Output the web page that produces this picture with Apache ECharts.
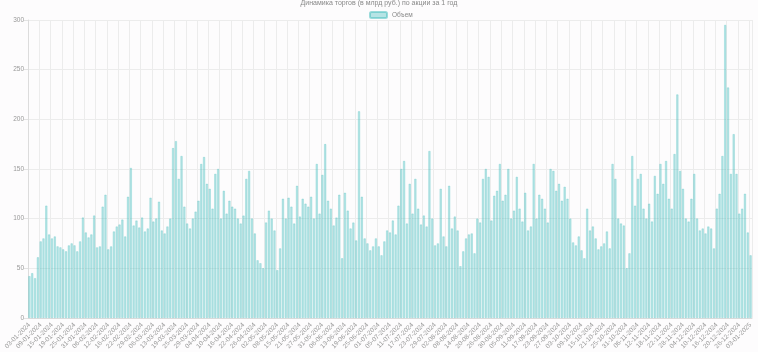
<!DOCTYPE html>
<html>
<head>
<meta charset="utf-8">
<script src="https://cdn.jsdelivr.net/npm/echarts@6/dist/echarts.min.js"></script>
<style>
  html, body { margin: 0; padding: 0; background: #fdfcfd; }
  #chart { width: 758px; height: 352px; }
</style>
</head>
<body>
<div id="chart"></div>
<script>
// торговые дни (MOEX) 03.01.2024 - 03.01.2025
const tradeDates = [
  '03-01-2024','04-01-2024','05-01-2024','08-01-2024','09-01-2024','10-01-2024','11-01-2024','12-01-2024','15-01-2024','16-01-2024',
  '17-01-2024','18-01-2024','19-01-2024','22-01-2024','23-01-2024','24-01-2024','25-01-2024','26-01-2024','29-01-2024','30-01-2024',
  '31-01-2024','01-02-2024','02-02-2024','05-02-2024','06-02-2024','07-02-2024','08-02-2024','09-02-2024','12-02-2024','13-02-2024',
  '14-02-2024','15-02-2024','16-02-2024','19-02-2024','20-02-2024','21-02-2024','22-02-2024','26-02-2024','27-02-2024','28-02-2024',
  '29-02-2024','01-03-2024','04-03-2024','05-03-2024','06-03-2024','07-03-2024','11-03-2024','12-03-2024','13-03-2024','14-03-2024',
  '15-03-2024','18-03-2024','19-03-2024','20-03-2024','21-03-2024','22-03-2024','25-03-2024','26-03-2024','27-03-2024','28-03-2024',
  '29-03-2024','01-04-2024','02-04-2024','03-04-2024','04-04-2024','05-04-2024','08-04-2024','09-04-2024','10-04-2024','11-04-2024',
  '12-04-2024','15-04-2024','16-04-2024','17-04-2024','18-04-2024','19-04-2024','22-04-2024','23-04-2024','24-04-2024','25-04-2024',
  '26-04-2024','27-04-2024','29-04-2024','30-04-2024','02-05-2024','03-05-2024','06-05-2024','07-05-2024','08-05-2024','10-05-2024',
  '13-05-2024','14-05-2024','15-05-2024','16-05-2024','17-05-2024','20-05-2024','21-05-2024','22-05-2024','23-05-2024','24-05-2024',
  '27-05-2024','28-05-2024','29-05-2024','30-05-2024','31-05-2024','03-06-2024','04-06-2024','05-06-2024','06-06-2024','07-06-2024',
  '10-06-2024','11-06-2024','13-06-2024','14-06-2024','17-06-2024','18-06-2024','19-06-2024','20-06-2024','21-06-2024','24-06-2024',
  '25-06-2024','26-06-2024','27-06-2024','28-06-2024','01-07-2024','02-07-2024','03-07-2024','04-07-2024','05-07-2024','08-07-2024',
  '09-07-2024','10-07-2024','11-07-2024','12-07-2024','15-07-2024','16-07-2024','17-07-2024','18-07-2024','19-07-2024','22-07-2024',
  '23-07-2024','24-07-2024','25-07-2024','26-07-2024','29-07-2024','30-07-2024','31-07-2024','01-08-2024','02-08-2024','05-08-2024',
  '06-08-2024','07-08-2024','08-08-2024','09-08-2024','12-08-2024','13-08-2024','14-08-2024','15-08-2024','16-08-2024','19-08-2024',
  '20-08-2024','21-08-2024','22-08-2024','23-08-2024','26-08-2024','27-08-2024','28-08-2024','29-08-2024','30-08-2024','02-09-2024',
  '03-09-2024','04-09-2024','05-09-2024','06-09-2024','09-09-2024','10-09-2024','11-09-2024','12-09-2024','13-09-2024','16-09-2024',
  '17-09-2024','18-09-2024','19-09-2024','20-09-2024','23-09-2024','24-09-2024','25-09-2024','26-09-2024','27-09-2024','30-09-2024',
  '01-10-2024','02-10-2024','03-10-2024','04-10-2024','07-10-2024','08-10-2024','09-10-2024','10-10-2024','11-10-2024','14-10-2024',
  '15-10-2024','16-10-2024','17-10-2024','18-10-2024','21-10-2024','22-10-2024','23-10-2024','24-10-2024','25-10-2024','28-10-2024',
  '29-10-2024','30-10-2024','31-10-2024','01-11-2024','02-11-2024','05-11-2024','06-11-2024','07-11-2024','08-11-2024','11-11-2024',
  '12-11-2024','13-11-2024','14-11-2024','15-11-2024','18-11-2024','19-11-2024','20-11-2024','21-11-2024','22-11-2024','25-11-2024',
  '26-11-2024','27-11-2024','28-11-2024','29-11-2024','02-12-2024','03-12-2024','04-12-2024','05-12-2024','06-12-2024','09-12-2024',
  '10-12-2024','11-12-2024','12-12-2024','13-12-2024','16-12-2024','17-12-2024','18-12-2024','19-12-2024','20-12-2024','23-12-2024',
  '24-12-2024','25-12-2024','26-12-2024','27-12-2024','28-12-2024','30-12-2024','03-01-2025'
]

// объем торгов
const volume = [
  42, 45, 40, 61, 77, 80, 113, 84, 80, 82,
  72, 71, 69, 67, 73, 75, 73, 67, 77, 101,
  86, 81, 84, 103, 71, 72, 112, 124, 69, 72,
  87, 92, 94, 99, 82, 122, 151, 93, 98, 91,
  101, 87, 90, 121, 97, 100, 117, 88, 85, 92,
  100, 171, 178, 140, 163, 112, 95, 90, 100, 107,
  118, 155, 162, 135, 130, 110, 145, 150, 100, 128,
  105, 118, 112, 110, 100, 95, 103, 140, 148, 100,
  85, 58, 55, 50, 96, 108, 100, 88, 48, 70,
  120, 100, 121, 112, 95, 133, 102, 120, 115, 112,
  122, 100, 155, 105, 144, 175, 118, 110, 93, 101,
  124, 60, 126, 108, 90, 96, 78, 208, 122, 80,
  75, 68, 72, 80, 72, 63, 77, 88, 86, 98,
  84, 113, 150, 158, 95, 135, 105, 140, 110, 94,
  103, 92, 168, 100, 73, 75, 130, 82, 72, 133,
  90, 102, 88, 52, 67, 80, 84, 85, 65, 100,
  96, 140, 150, 142, 98, 123, 128, 155, 118, 124,
  150, 100, 108, 142, 110, 97, 126, 88, 92, 155,
  100, 124, 120, 110, 96, 150, 148, 128, 135, 118,
  132, 120, 100, 76, 73, 82, 68, 60, 110, 88,
  92, 80, 69, 72, 75, 87, 70, 155, 140, 100,
  95, 93, 50, 65, 163, 113, 140, 145, 110, 100,
  115, 97, 143, 125, 155, 135, 158, 120, 110, 165,
  225, 148, 130, 100, 97, 120, 145, 100, 88, 90,
  85, 92, 90, 70, 110, 125, 163, 295, 232, 145,
  185, 145, 105, 110, 125, 86, 63
]

const yTicks = { min: 0, max: 300, step: 50 }

const chart = echarts.init(document.getElementById('chart'))
const font = 'Liberation Sans, Arial, sans-serif'

chart.setOption({
  animation: false,
  backgroundColor: '#fdfcfd',
  textStyle: { fontFamily: font },
  title: {
    text: 'Динамика торгов (в млрд руб.) по акции за 1 год',
    left: 'center',
    top: -5,
    textStyle: { fontSize: 7, fontWeight: 'normal', color: '#888', fontFamily: font }
  },
  legend: {
    top: 6,
    left: 364,
    itemWidth: 17,
    itemHeight: 6,
    itemGap: 4,
    textStyle: { fontSize: 6.5, color: '#888', fontFamily: font },
    data: ['Объем']
  },
  grid: { left: 28, right: 6, top: 20, bottom: 34, containLabel: false },
  xAxis: {
    type: 'category',
    data: tradeDates,
    axisLine: { lineStyle: { color: '#dcdcdc' } },
    axisTick: { interval: 3, length: 4, lineStyle: { color: '#e2e2e2' } },
    axisLabel: {
      interval: 3,
      rotate: 45,
      fontSize: 6.5,
      color: '#999',
      margin: 6,
      fontFamily: font
    },
    splitLine: { show: true, interval: 3, lineStyle: { color: '#ececec', width: 1 } }
  },
  yAxis: {
    type: 'value',
    min: yTicks.min,
    max: yTicks.max,
    interval: yTicks.step,
    axisLine: { show: true, lineStyle: { color: '#dcdcdc' } },
    axisTick: { show: true, length: 4, lineStyle: { color: '#e2e2e2' } },
    axisLabel: { fontSize: 6.5, color: '#999', margin: 4, fontFamily: font },
    splitLine: { lineStyle: { color: '#ececec' } }
  },
  series: [{
    name: 'Объем',
    type: 'bar',
    data: volume,
    barCategoryGap: '26%',
    itemStyle: {
      color: 'rgba(75, 192, 192, 0.4)',
      borderColor: 'rgba(75, 192, 192, 0.55)',
      borderWidth: 0.5
    }
  }]
})
</script>
</body>
</html>
